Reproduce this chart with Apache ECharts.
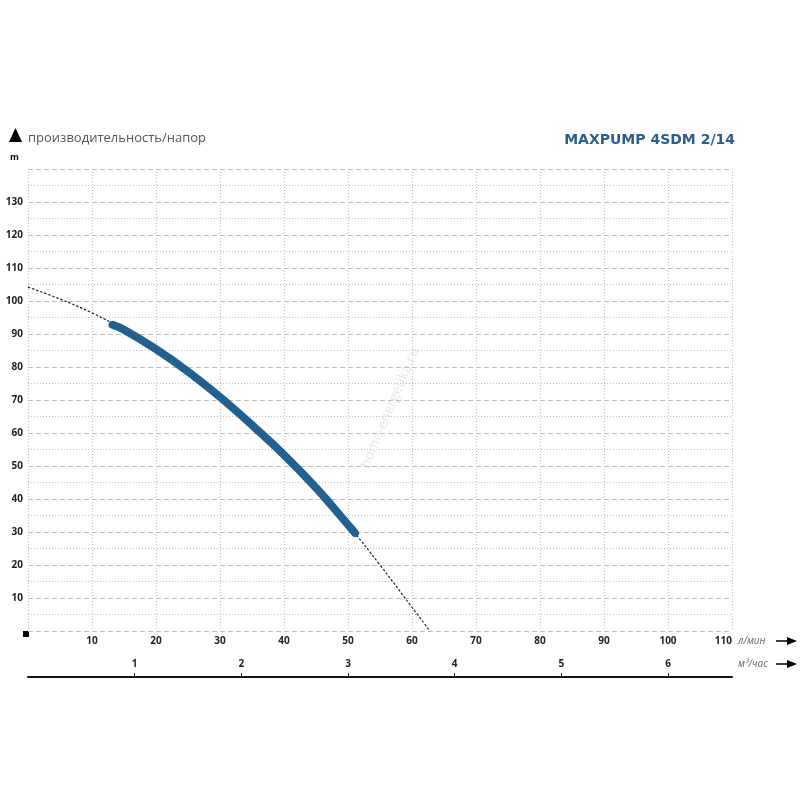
<!DOCTYPE html>
<html>
<head>
<meta charset="utf-8">
<script src="https://cdn.jsdelivr.net/npm/echarts@6/dist/echarts.min.js"></script>
<style>html,body{margin:0;padding:0;background:#fff}#c{width:800px;height:800px}</style>
</head>
<body>
<div id="c"></div>
<script>
// Full pump curve (dashed), flow in l/min, head in m
const curveQ = [0, 5, 10, 15, 20, 25, 30, 35, 40, 45, 50, 55, 60, 62.8];
const curveH = [104.2, 100.6, 96.4, 91.3, 85.4, 78.6, 70.9, 62.4, 53.4, 43.4, 32.2, 20.0, 7.2, 0];
// Working range (thick blue)
const workQ = [13.2, 15, 20, 25, 30, 35, 40, 45, 50, 51.1];
const workH = [92.8, 91.3, 85.4, 78.6, 70.9, 62.4, 53.4, 43.4, 32.2, 29.7];
// Axis ticks
const lpmTicks = [10, 20, 30, 40, 50, 60, 70, 80, 90, 100, 110];
const m3hTicks = [1, 2, 3, 4, 5, 6];
const headTicks = [10, 20, 30, 40, 50, 60, 70, 80, 90, 100, 110, 120, 130];
const LPM_PER_M3H = 1000 / 60;

const title = 'MAXPUMP 4SDM 2/14';
const subtitle = 'производительность/напор';

const chart = echarts.init(document.getElementById('c'), null, {renderer: 'canvas'});
const gridCol = '#bdbdbd';
const lblFont = {fontFamily: 'Open Sans', fontWeight: 'bold', fontSize: 10, color: '#222'};

chart.setOption({
  animation: false,
  backgroundColor: '#fff',
  grid: {left: 28, top: 169, width: 704, height: 462, containLabel: false},
  xAxis: [{
    type: 'value', min: 0, max: 110, interval: 10, position: 'bottom',
    axisLine: {show: false}, axisTick: {show: false},
    axisLabel: Object.assign({margin: 5, customValues: lpmTicks, alignMaxLabel: 'right'}, lblFont),
    splitLine: {show: true, lineStyle: {color: gridCol, type: [1, 2], width: 1}}
  }, {
    type: 'value', min: 0, max: 110 / LPM_PER_M3H, position: 'bottom', offset: 46,
    axisLine: {show: true, lineStyle: {color: '#111', width: 2}},
    axisTick: {show: true, inside: true, length: 4, customValues: m3hTicks, lineStyle: {color: '#111', width: 1}},
    axisLabel: Object.assign({inside: true, margin: 8, customValues: m3hTicks}, lblFont),
    splitLine: {show: false}
  }],
  yAxis: {
    type: 'value', min: 0, max: 140, interval: 10,
    axisLine: {show: false}, axisTick: {show: false},
    axisLabel: Object.assign({margin: 5, customValues: headTicks}, lblFont),
    splitLine: {show: true, lineStyle: {color: gridCol, type: [5, 3], width: 1}},
    minorTick: {show: false, splitNumber: 2},
    minorSplitLine: {show: true, lineStyle: {color: gridCol, type: [1, 2], width: 1}}
  },
  series: [{
    type: 'line', xAxisIndex: 0, smooth: 0.4, symbol: 'none', z: 2,
    data: curveQ.map((q, i) => [q, curveH[i]]),
    lineStyle: {color: '#222', width: 1.2, type: [2.5, 1.8]}
  }, {
    type: 'line', xAxisIndex: 0, smooth: 0.4, symbol: 'none', z: 3,
    data: workQ.map((q, i) => [q, workH[i]]),
    lineStyle: {color: '#22608f', width: 8, cap: 'round', join: 'round'}
  }],
  graphic: [
    {type: 'polygon', shape: {points: [[9, 142], [15.5, 128], [22, 142]]}, style: {fill: '#000'}},
    {type: 'text', x: 28, y: 138, style: {text: subtitle, fontFamily: 'Open Sans', fontSize: 13, fill: '#555', verticalAlign: 'middle'}},
    {type: 'text', x: 10, y: 157, style: {text: 'm', fontFamily: 'Open Sans', fontWeight: 'bold', fontSize: 9, fill: '#111', verticalAlign: 'middle'}},
    {type: 'text', x: 735, y: 140, style: {text: title, fontFamily: 'DejaVu Sans', fontWeight: 'bold', fontSize: 14, fill: '#2a5e8e', align: 'right', verticalAlign: 'middle'}},
    {type: 'rect', shape: {x: 23, y: 631, width: 6, height: 6}, style: {fill: '#000'}},
    {type: 'text', x: 738, y: 641, style: {text: 'л/мин', fontFamily: 'Open Sans', fontStyle: 'italic', fontSize: 10, fill: '#666', verticalAlign: 'middle'}},
    {type: 'text', x: 738, y: 664, style: {text: 'м³/час', fontFamily: 'Open Sans', fontStyle: 'italic', fontSize: 10, fill: '#666', verticalAlign: 'middle'}},
    {type: 'line', shape: {x1: 776, y1: 641, x2: 790, y2: 641}, style: {stroke: '#000', lineWidth: 1.5}},
    {type: 'polygon', shape: {points: [[787, 637], [797, 641], [787, 645]]}, style: {fill: '#000'}},
    {type: 'line', shape: {x1: 776, y1: 664, x2: 790, y2: 664}, style: {stroke: '#000', lineWidth: 1.5}},
    {type: 'polygon', shape: {points: [[787, 660], [797, 664], [787, 668]]}, style: {fill: '#000'}},
    {type: 'text', x: 390, y: 408, rotation: 67 * Math.PI / 180, style: {text: 'home-energetika.ru', fontFamily: 'Open Sans', fontSize: 14, fill: '#e6e6e6', align: 'center', verticalAlign: 'middle'}}
  ]
});
</script>
</body>
</html>
